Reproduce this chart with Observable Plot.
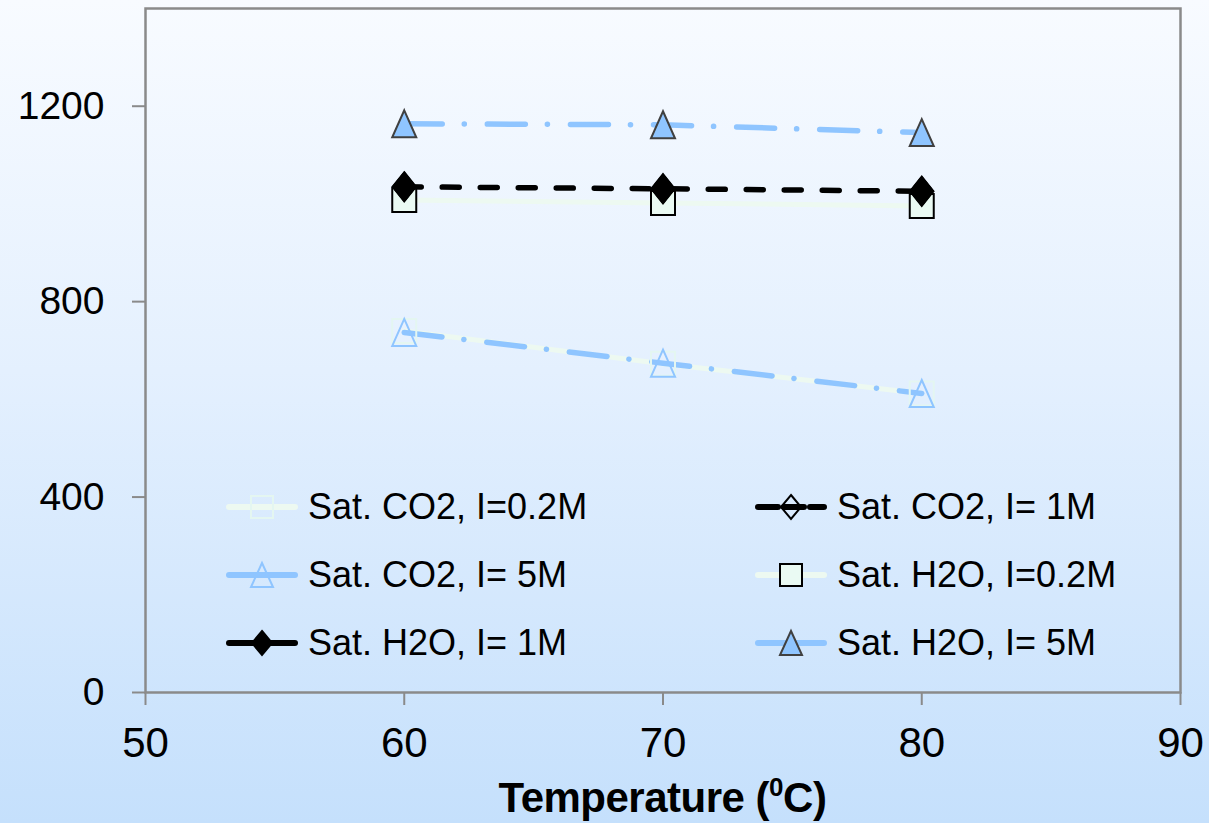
<!DOCTYPE html>
<html>
<head>
<meta charset="utf-8">
<script src="https://cdn.jsdelivr.net/npm/d3@7"></script>
<script src="https://cdn.jsdelivr.net/npm/@observablehq/plot@0.6"></script>
<style>
  html, body { margin:0; padding:0; }
  body { width:1209px; height:823px; overflow:hidden;
         background: linear-gradient(to bottom, #f8fbff 0%, #e4f0fe 45%, #c5e0fc 100%);
         font-family: "Liberation Sans", Arial, sans-serif; }
  #wrap { position:relative; width:1209px; height:823px; }
  #title { position:absolute; left:145px; width:1035px; top:772px; height:51px; line-height:51px;
           text-align:center; font-weight:bold; font-size:42px; color:#000; letter-spacing:-0.5px; }
  #title sup { font-size:26px; vertical-align: 16px; line-height:0; }
  .leg { position:absolute; display:flex; align-items:center; font-size:36px; color:#000; white-space:nowrap; }
  .leg svg { display:block; margin-right:8px; }
</style>
</head>
<body>
<div id="wrap">
  <div id="chart"></div>
  <div id="legend"></div>
  <div id="title">Temperature (<sup>0</sup>C)</div>
</div>
<script>
// ---- data ----
const temperature = [60, 70, 80];
const satCO2_02 = [740, 673, 612];
const satCO2_1  = [1035, 1031, 1026];
const satCO2_5  = [737, 674, 612];
const satH2O_02 = [1008, 1002, 996];
const satH2O_1  = [1035, 1031, 1026];
const satH2O_5  = [1164, 1162, 1146];
const xTicks = [50, 60, 70, 80, 90];
const yTicks = [0, 400, 800, 1200];
const seriesNames = ["Sat. CO2, I=0.2M", "Sat. CO2, I= 1M", "Sat. CO2, I= 5M",
                     "Sat. H2O, I=0.2M", "Sat. H2O, I= 1M", "Sat. H2O, I= 5M"];

const rows = (vals) => temperature.map((t, i) => ({t, v: vals[i]}));

// custom symbols
const rOf = size => Math.sqrt(size / Math.PI);
const triSym = { draw(ctx, size) { const r = rOf(size); ctx.moveTo(0, -r); ctx.lineTo(0.89*r, r); ctx.lineTo(-0.89*r, r); ctx.closePath(); } };
const sqSym = { draw(ctx, size) { const r = rOf(size); ctx.rect(-r, -r, 2*r, 2*r); } };
const diaSym = { draw(ctx, size) { const r = rOf(size); ctx.moveTo(0, -r); ctx.lineTo(0.8*r, 0); ctx.lineTo(0, r); ctx.lineTo(-0.8*r, 0); ctx.closePath(); } };

const lightBlue = "#8fc5ff";
const paleLine = "#edf9f1";
const dashDot = "38 22 0.1 23";
const dashed = "17 21";

const chart = Plot.plot({
  width: 1209, height: 772,
  marginLeft: 145, marginRight: 29, marginTop: 8, marginBottom: 80,
  x: { domain: [50, 90] },
  y: { domain: [0, 1400] },
  style: { background: "transparent", fontFamily: "'Liberation Sans', Arial, sans-serif", color: "#000" },
  marks: [
    Plot.axisY({ ticks: yTicks, tickSize: 13, tickPadding: 28, fontSize: 39, tickFormat: d => String(d),
                 stroke: "#8a8a8a", strokeWidth: 2, fill: "#000", label: null }),
    Plot.axisX({ ticks: xTicks, tickSize: 13, tickPadding: 22, fontSize: 42, tickFormat: d => String(d),
                 stroke: "#8a8a8a", strokeWidth: 2, fill: "#000", label: null }),
    Plot.frame({ stroke: "#8a8a8a", strokeWidth: 2.5 }),
    // CO2 0.2M & 5M
    Plot.line(rows(satCO2_02), { x: "t", y: "v", stroke: paleLine, strokeWidth: 5 }),
    Plot.line(rows(satCO2_5), { x: "t", y: "v", stroke: lightBlue, strokeWidth: 5.5, strokeDasharray: dashDot, strokeLinecap: "round" }),
    Plot.dot(rows(satCO2_02), { x: "t", y: "v", symbol: sqSym, r: 12, fill: "none", stroke: "#e4f6f1", strokeWidth: 2 }),
    Plot.dot(rows(satCO2_5), { x: "t", y: "v", symbol: triSym, r: 13.5, fill: "none", stroke: lightBlue, strokeWidth: 2 }),
    // H2O 0.2M
    Plot.line(rows(satH2O_02), { x: "t", y: "v", stroke: paleLine, strokeWidth: 5 }),
    Plot.dot(rows(satH2O_02), { x: "t", y: "v", symbol: sqSym, r: 12, fill: "#eafaf3", stroke: "#000", strokeWidth: 2 }),
    // CO2 1M & H2O 1M
    Plot.line(rows(satCO2_1), { x: "t", y: "v", stroke: "#000", strokeWidth: 5.5, strokeDasharray: dashed, strokeLinecap: "round" }),
    Plot.dot(rows(satCO2_1), { x: "t", y: "v", symbol: diaSym, r: 15, fill: "none", stroke: "#000", strokeWidth: 1.5 }),
    Plot.dot(rows(satH2O_1), { x: "t", y: "v", symbol: diaSym, r: 15, fill: "#000", stroke: "#000", strokeWidth: 1 }),
    // H2O 5M
    Plot.line(rows(satH2O_5), { x: "t", y: "v", stroke: lightBlue, strokeWidth: 5.5, strokeDasharray: dashDot, strokeLinecap: "round" }),
    Plot.dot(rows(satH2O_5), { x: "t", y: "v", symbol: triSym, r: 13.5, fill: lightBlue, stroke: "#404040", strokeWidth: 2 })
  ]
});
document.getElementById("chart").appendChild(chart);

// ---- legend ----
const legendStyles = [
  { line: paleLine, dash: null, sym: "sq", fill: "none", stroke: "#e4f6f1" },
  { line: "#000", dash: "20 6", sym: "dia", fill: "none", stroke: "#000" },
  { line: lightBlue, dash: null, sym: "tri", fill: "none", stroke: lightBlue },
  { line: paleLine, dash: null, sym: "sq", fill: "#eafaf3", stroke: "#000" },
  { line: "#000", dash: null, sym: "dia", fill: "#000", stroke: "#000" },
  { line: lightBlue, dash: null, sym: "tri", fill: lightBlue, stroke: "#404040" }
];
const legPos = [[226, 507], [755, 507], [226, 575], [755, 575], [226, 643], [755, 643]];
const legend = document.getElementById("legend");
seriesNames.forEach((name, i) => {
  const s = legendStyles[i];
  const [lx, ly] = legPos[i];
  const div = document.createElement("div");
  div.className = "leg";
  div.style.left = lx + "px";
  div.style.top = (ly - 21) + "px";
  div.style.height = "42px";
  let symSvg = "";
  if (s.sym === "sq") symSvg = `<rect x="25" y="9" width="22" height="22" fill="${s.fill}" stroke="${s.stroke}" stroke-width="2"/>`;
  if (s.sym === "dia") symSvg = `<path d="M36,8 L46,20 L36,32 L26,20 Z" fill="${s.fill}" stroke="${s.stroke}" stroke-width="2"/>`;
  if (s.sym === "tri") symSvg = `<path d="M36,8 L47,32 L25,32 Z" fill="${s.fill}" stroke="${s.stroke}" stroke-width="2"/>`;
  div.innerHTML = `<svg width="74" height="40"><line x1="3" y1="20" x2="69" y2="20" stroke="${s.line}" stroke-width="6" stroke-linecap="round" ${s.dash ? `stroke-dasharray="${s.dash}"` : ""}/>${symSvg}</svg><span>${name}</span>`;
  legend.appendChild(div);
});
</script>
</body>
</html>
